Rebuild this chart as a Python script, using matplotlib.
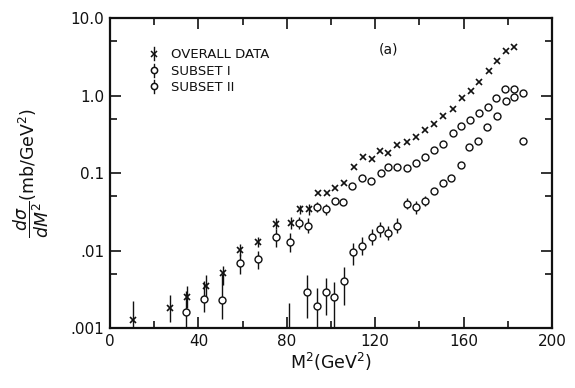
import matplotlib
matplotlib.use("Agg")
import matplotlib.pyplot as plt
from matplotlib.ticker import FixedLocator, NullFormatter
from matplotlib.lines import Line2D
from matplotlib.legend_handler import HandlerBase

# ---- overall data ----
m2_all = [10.4, 27, 35, 43.4, 51, 59, 67, 75, 82, 86, 90, 94, 98, 102, 106,
          110.5, 114.5, 118.5, 122, 126, 130, 134.5, 138.5, 142.5, 146.6,
          150.6, 155, 159.5, 163.5, 167, 171.5, 175, 179, 183]
xs_all = [0.00127, 0.0018, 0.0025, 0.0035, 0.0051, 0.0102, 0.0128, 0.022,
          0.0226, 0.034, 0.034, 0.055, 0.056, 0.065, 0.074, 0.12, 0.16, 0.15,
          0.19, 0.18, 0.23, 0.25, 0.29, 0.36, 0.43, 0.55, 0.67, 0.93, 1.14,
          1.49, 2.07, 2.79, 3.75, 4.2]
lo_all = [0.0009, 0.0012, 0.0018, 0.0025, 0.0036, 0.0085, 0.011, 0.019,
          0.019, 0.030, 0.029]
hi_all = [0.0022, 0.0027, 0.0035, 0.0048, 0.0063, 0.0120, 0.015, 0.026,
          0.027, 0.039, 0.040]

# ---- subset I ----
m2_s1 = [34.4, 42.5, 50.7, 58.8, 67, 75, 81.4, 85.5, 89.6, 93.6, 97.7, 101.6,
         105.6, 109.5, 114, 118, 122.6, 126, 130, 134.4, 138.5, 142.5, 146.6,
         150.7, 155, 159, 163, 167, 171, 174.7, 178.7, 183, 187]
xs_s1 = [0.0016, 0.0024, 0.0023, 0.0069, 0.0078, 0.0148, 0.013, 0.0226,
         0.021, 0.036, 0.034, 0.043, 0.042, 0.068, 0.087, 0.080, 0.10, 0.118,
         0.12, 0.116, 0.135, 0.16, 0.20, 0.24, 0.33, 0.40, 0.49, 0.59, 0.72,
         0.93, 1.21, 1.21, 1.07]
lo_s1 = [0.0008, 0.0016, 0.0013, 0.0050, 0.0058, 0.011, 0.0095, 0.019,
         0.017, 0.031, 0.029]
hi_s1 = [0.0030, 0.0040, 0.0050, 0.0090, 0.0100, 0.019, 0.017, 0.027,
         0.026, 0.042, 0.040]

# ---- subset II ----
m2_s2 = [81, 89, 93.5, 97.6, 101.5, 106, 110, 114, 118.5, 122, 126, 130,
         134.4, 138.5, 142.5, 146.5, 150.5, 154.5, 158.8, 162.5, 166.5, 170.6,
         175, 179, 183, 187]
xs_s2 = [0.0008, 0.0029, 0.0019, 0.0029, 0.0025, 0.0041, 0.0095, 0.0115,
         0.0150, 0.019, 0.017, 0.021, 0.040, 0.036, 0.043, 0.059, 0.074,
         0.086, 0.127, 0.216, 0.26, 0.39, 0.54, 0.85, 0.96, 0.26]
lo_s2 = [0.0005, 0.00135, 0.0008, 0.00148, 0.0008, 0.0020, 0.0065, 0.0088,
         0.0118, 0.015, 0.0135, 0.017, 0.034, 0.030, 0.037]
hi_s2 = [0.0021, 0.0048, 0.0033, 0.0044, 0.0039, 0.0062, 0.0126, 0.0150,
         0.0190, 0.023, 0.021, 0.026, 0.047, 0.043, 0.050]

y_ticks = [0.001, 0.01, 0.1, 1.0, 10.0]
y_ticklabels = [".001", ".01", "0.1", "1.0", "10.0"]
y_minor = [0.005, 0.05, 0.5, 5.0]
x_ticks = [0, 40, 80, 120, 160, 200]
x_minor = [20, 60, 100, 140, 180]
legend_labels = ["OVERALL DATA", "SUBSET I", "SUBSET II"]

plt.rcParams["font.family"] = ["DejaVu Sans"]
INK = "#111111"

fig = plt.figure(figsize=(5.75, 3.88), dpi=100)
ax = fig.add_axes([0.1913, 0.1546, 0.7687, 0.799])
ax.set_yscale("log")
ax.set_xlim(0, 200)
ax.set_ylim(0.001, 10.0)


def bars(x, y, lo, hi):
    n = len(lo)
    yerr = [[y[i] - lo[i] for i in range(n)], [hi[i] - y[i] for i in range(n)]]
    ax.errorbar(x[:n], y[:n], yerr=yerr, fmt="none", ecolor=INK,
                elinewidth=1.0, capsize=0)


bars(m2_all, xs_all, lo_all, hi_all)
bars(m2_s1, xs_s1, lo_s1, hi_s1)
bars(m2_s2, xs_s2, lo_s2, hi_s2)

h_all, = ax.plot(m2_all, xs_all, ls="none", marker="x", ms=4.0, mew=1.2,
                 color=INK)
h_s1, = ax.plot(m2_s1, xs_s1, ls="none", marker="o", ms=5.0, mew=1.0,
                mfc="white", mec=INK)
h_s2, = ax.plot(m2_s2, xs_s2, ls="none", marker="o", ms=5.0, mew=1.0,
                mfc="white", mec=INK)


class BarMarker(HandlerBase):
    """Legend symbol: a marker sitting on a short vertical error bar."""

    def __init__(self, marker, filled):
        super().__init__()
        self.marker = marker
        self.filled = filled

    def create_artists(self, legend, orig, xd, yd, width, height, fontsize, trans):
        cx = xd + width / 2
        cy = yd + height / 2
        bar = Line2D([cx, cx], [cy - height * 0.7, cy + height * 0.7],
                     color=INK, lw=1.0, transform=trans)
        mk = Line2D([cx], [cy], marker=self.marker, ms=4.5, mew=1.1,
                    mfc=INK if self.filled else "white", mec=INK,
                    ls="none", transform=trans)
        return [bar, mk]


leg = ax.legend([h_all, h_s1, h_s2], legend_labels,
                handler_map={h_all: BarMarker("x", True),
                             h_s1: BarMarker("o", False),
                             h_s2: BarMarker("o", False)},
                loc="upper left", bbox_to_anchor=(0.088, 0.902),
                frameon=False, handlelength=0.8, handletextpad=0.9,
                labelspacing=0.25, borderpad=0, borderaxespad=0,
                prop={"size": 9.5})
for t in leg.get_texts():
    t.set_color(INK)

ax.text(0.629, 0.897, "(a)", transform=ax.transAxes, fontsize=10,
        ha="center", va="center", color=INK)

ax.yaxis.set_major_locator(FixedLocator(y_ticks))
ax.set_yticklabels(y_ticklabels)
ax.yaxis.set_minor_locator(FixedLocator(y_minor))
ax.yaxis.set_minor_formatter(NullFormatter())
ax.xaxis.set_major_locator(FixedLocator(x_ticks))
ax.xaxis.set_minor_locator(FixedLocator(x_minor))

ax.tick_params(which="both", direction="in", top=True, right=True,
               colors=INK, width=1.2)
ax.tick_params(which="major", length=8, labelsize=11, pad=4)
ax.tick_params(which="minor", length=5)
for s in ax.spines.values():
    s.set_linewidth(1.6)
    s.set_color(INK)

ax.set_xlabel(r"M$^2$(GeV$^2$)", fontsize=12.5, color=INK, labelpad=2)
ax.set_ylabel(r"$\dfrac{d\sigma}{dM^2}$(mb/GeV$^2$)", fontsize=12.5,
              color=INK, labelpad=14)

fig.savefig("out.png", dpi=100, facecolor="white")
